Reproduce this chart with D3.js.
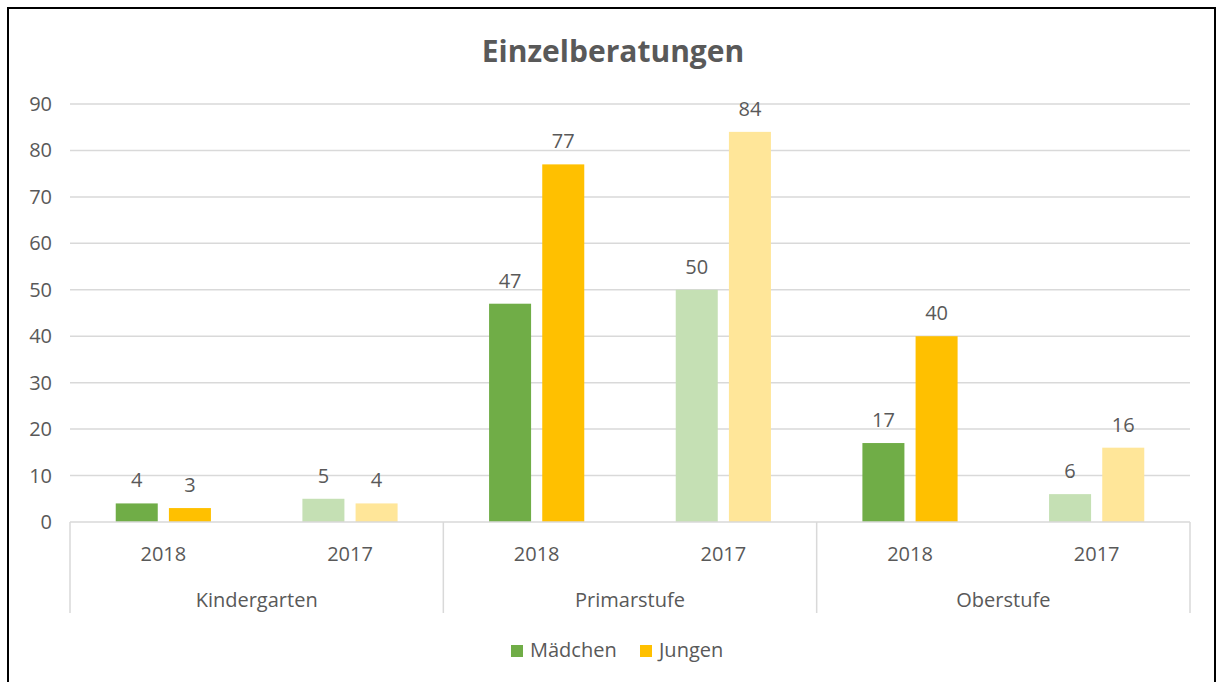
<!DOCTYPE html>
<html lang="de">
<head>
<meta charset="UTF-8">
<title>Einzelberatungen</title>
<style>
  body { margin: 0; background: #fff; }
  svg text { font-family: "Open Sans", "Noto Sans", sans-serif; fill: #595959; }
</style>
</head>
<body>
<svg id="chart" width="1220" height="682"></svg>
<script src="https://cdnjs.cloudflare.com/ajax/libs/d3/7.8.5/d3.min.js"></script>
<script>
// data
var groups = ["Kindergarten", "Primarstufe", "Oberstufe"];
var years = ["2018", "2017"];
var series = ["Mädchen", "Jungen"];
var maedchen2018 = [4, 47, 17];
var jungen2018 = [3, 77, 40];
var maedchen2017 = [5, 50, 6];
var jungen2017 = [4, 84, 16];
var yTicks = [0, 10, 20, 30, 40, 50, 60, 70, 80, 90];

(function() {
  var colors = {
    "Mädchen": { "2018": "#70AD47", "2017": "#C5E0B4" },
    "Jungen": { "2018": "#FFC000", "2017": "#FFE699" }
  };
  var fs = "20px";

  var rows = [];
  groups.forEach(function(g, i) {
    rows.push({ group: g, year: years[0], key: g + "|2018", values: { "Mädchen": maedchen2018[i], "Jungen": jungen2018[i] } });
    rows.push({ group: g, year: years[1], key: g + "|2017", values: { "Mädchen": maedchen2017[i], "Jungen": jungen2017[i] } });
  });

  var svg = d3.select("#chart");
  var pLeft = 70, pRight = 1190, pTop = 104, pBottom = 522;

  // outer frame
  svg.append("rect")
    .attr("x", 8).attr("y", 8).attr("width", 1207).attr("height", 690)
    .attr("fill", "none").attr("stroke", "#000").attr("stroke-width", 2);

  var y = d3.scaleLinear().domain([0, 90]).range([pBottom, pTop]);
  var x0 = d3.scaleBand().domain(rows.map(function(d) { return d.key; }))
    .range([pLeft, pRight]).paddingInner(0).paddingOuter(0);
  var x1 = d3.scaleBand().domain(series).range([0, x0.bandwidth()])
    .paddingInner(0.21).paddingOuter(0.86);

  // title
  svg.append("text")
    .attr("x", 613).attr("y", 62)
    .attr("text-anchor", "middle")
    .style("font-size", "30px").style("font-weight", "bold")
    .text("Einzelberatungen");

  // gridlines
  svg.append("g").selectAll("line").data(yTicks.filter(function(t) { return t > 0; }))
    .enter().append("line")
    .attr("x1", pLeft).attr("x2", pRight)
    .attr("y1", function(d) { return y(d); }).attr("y2", function(d) { return y(d); })
    .attr("stroke", "#D9D9D9").attr("stroke-width", 1.5);

  // y labels
  svg.append("g").selectAll("text").data(yTicks).enter().append("text")
    .attr("x", 52).attr("y", function(d) { return y(d) + 7; })
    .attr("text-anchor", "end")
    .style("font-size", fs)
    .text(function(d) { return d; });

  // bars
  var cat = svg.append("g").selectAll("g").data(rows).enter().append("g")
    .attr("transform", function(d) { return "translate(" + x0(d.key) + ",0)"; });

  cat.selectAll("rect").data(function(d) {
      return series.map(function(s) { return { s: s, v: d.values[s], year: d.year }; });
    })
    .enter().append("rect")
    .attr("x", function(d) { return x1(d.s); })
    .attr("width", x1.bandwidth())
    .attr("y", function(d) { return y(d.v); })
    .attr("height", function(d) { return pBottom - y(d.v); })
    .attr("fill", function(d) { return colors[d.s][d.year]; });

  cat.selectAll("text.val").data(function(d) {
      return series.map(function(s) { return { s: s, v: d.values[s] }; });
    })
    .enter().append("text")
    .attr("class", "val")
    .attr("x", function(d) { return x1(d.s) + x1.bandwidth() / 2; })
    .attr("y", function(d) { return y(d.v) - 16; })
    .attr("text-anchor", "middle")
    .style("font-size", fs)
    .text(function(d) { return d.v; });

  // category axis
  var axis = svg.append("g");
  axis.append("line")
    .attr("x1", pLeft).attr("x2", pRight).attr("y1", pBottom).attr("y2", pBottom)
    .attr("stroke", "#D9D9D9").attr("stroke-width", 1.5);

  var gw = (pRight - pLeft) / groups.length;
  d3.range(groups.length + 1).forEach(function(i) {
    axis.append("line")
      .attr("x1", pLeft + i * gw).attr("x2", pLeft + i * gw)
      .attr("y1", pBottom).attr("y2", 613)
      .attr("stroke", "#D9D9D9").attr("stroke-width", 1.5);
  });

  axis.selectAll("text.year").data(rows).enter().append("text")
    .attr("class", "year")
    .attr("x", function(d) { return x0(d.key) + x0.bandwidth() / 2; })
    .attr("y", 561)
    .attr("text-anchor", "middle")
    .style("font-size", fs)
    .text(function(d) { return d.year; });

  axis.selectAll("text.group").data(groups).enter().append("text")
    .attr("class", "group")
    .attr("x", function(d, i) { return pLeft + (i + 0.5) * gw; })
    .attr("y", 607)
    .attr("text-anchor", "middle")
    .style("font-size", fs)
    .text(function(d) { return d; });

  // legend
  var legend = svg.append("g");
  var legX = [511, 640];
  series.forEach(function(s, i) {
    legend.append("rect")
      .attr("x", legX[i]).attr("y", 645).attr("width", 12).attr("height", 12)
      .attr("fill", colors[s]["2018"]);
    legend.append("text")
      .attr("x", legX[i] + 19).attr("y", 657)
      .style("font-size", fs)
      .text(s);
  });
})();
</script>
</body>
</html>
